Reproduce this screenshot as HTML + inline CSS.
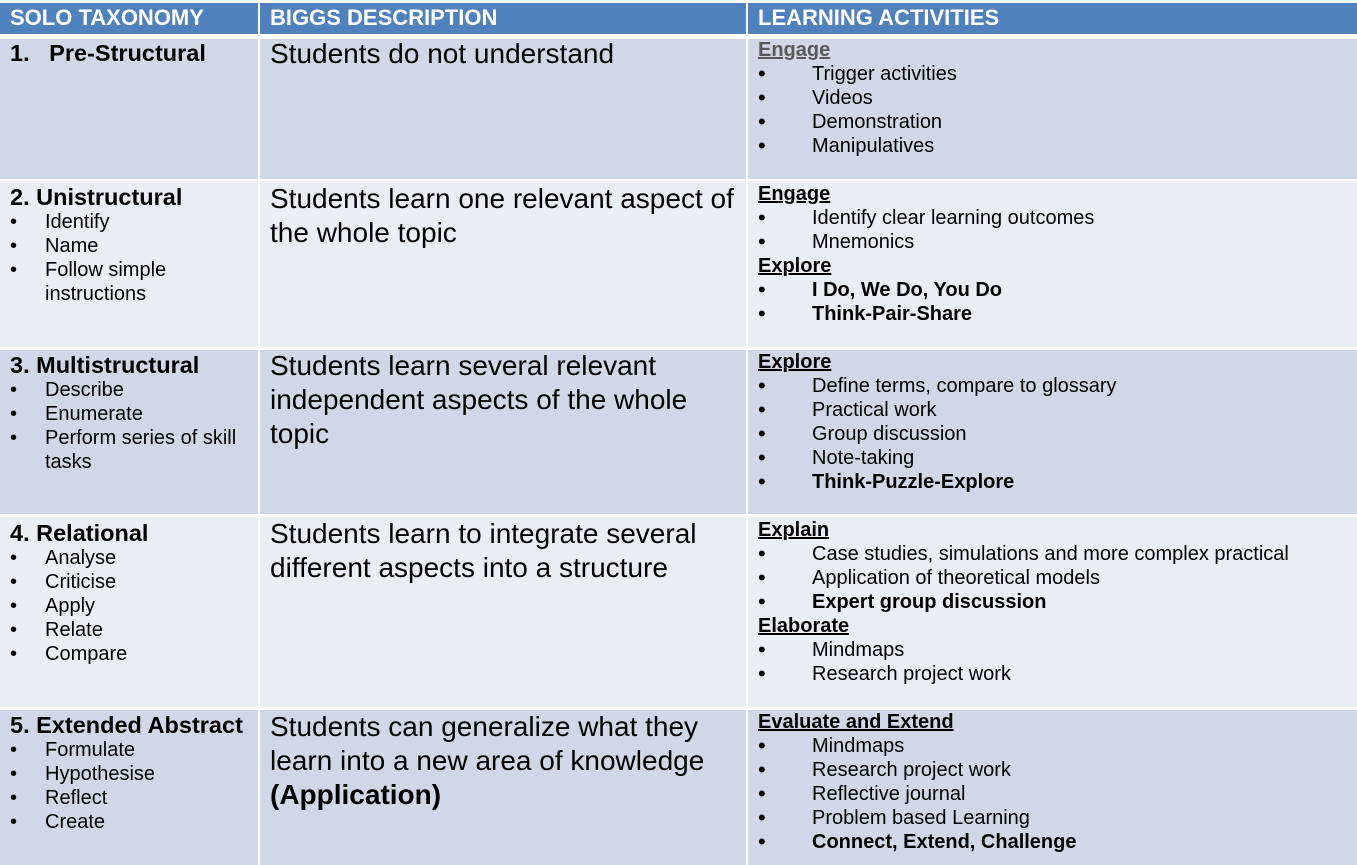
<!DOCTYPE html>
<html><head><meta charset="utf-8"><style>
*{margin:0;padding:0;box-sizing:border-box}
body{width:1357px;height:865px;background:#fff;position:relative;overflow:hidden;font-family:"Liberation Sans",Arial,sans-serif;color:#000}
.c{position:absolute}
.h{background:#4f81bd;color:#fff;font-weight:bold;font-size:22px;line-height:30px;padding-left:10px;top:3px;height:31px}
.o{background:#d0d8e8}.e{background:#e9edf4}
.t{position:absolute;white-space:nowrap;line-height:24px}
.ti{font-size:23.5px;font-weight:bold;left:10px}
.sb{font-size:20px}
.d{font-size:28px;left:270px;line-height:34px}
.a{font-size:20px}
.hd{font-weight:bold;text-decoration:underline;left:758px}
.b{left:758px;font-size:22px}
.at{left:812px}
.bb{font-weight:bold}
</style></head><body>
<div class="c h" style="left:0;width:258px">SOLO TAXONOMY</div>
<div class="c h" style="left:260px;width:486px">BIGGS DESCRIPTION</div>
<div class="c h" style="left:748px;width:609px">LEARNING ACTIVITIES</div>

<div class="c o" style="left:0;top:39px;width:258px;height:140px"></div>
<div class="c o" style="left:260px;top:39px;width:486px;height:140px"></div>
<div class="c o" style="left:748px;top:39px;width:609px;height:140px"></div>
<div class="c e" style="left:0;top:181px;width:258px;height:166px"></div>
<div class="c e" style="left:260px;top:181px;width:486px;height:166px"></div>
<div class="c e" style="left:748px;top:181px;width:609px;height:166px"></div>
<div class="c o" style="left:0;top:350px;width:258px;height:164px"></div>
<div class="c o" style="left:260px;top:350px;width:486px;height:164px"></div>
<div class="c o" style="left:748px;top:350px;width:609px;height:164px"></div>
<div class="c e" style="left:0;top:517px;width:258px;height:190px"></div>
<div class="c e" style="left:260px;top:517px;width:486px;height:190px"></div>
<div class="c e" style="left:748px;top:517px;width:609px;height:190px"></div>
<div class="c o" style="left:0;top:710px;width:258px;height:155px"></div>
<div class="c o" style="left:260px;top:710px;width:486px;height:155px"></div>
<div class="c o" style="left:748px;top:710px;width:609px;height:155px"></div>

<!-- col1 -->
<div class="t ti" style="top:41px">1.&nbsp;&nbsp; Pre-Structural</div>
<div class="t ti" style="top:185px">2. Unistructural</div>
<div class="t sb" style="left:10px;top:210px">•</div><div class="t sb" style="left:45px;top:210px">Identify</div>
<div class="t sb" style="left:10px;top:234px">•</div><div class="t sb" style="left:45px;top:234px">Name</div>
<div class="t sb" style="left:10px;top:258px">•</div><div class="t sb" style="left:45px;top:258px">Follow simple</div>
<div class="t sb" style="left:45px;top:282px">instructions</div>
<div class="t ti" style="top:353px">3. Multistructural</div>
<div class="t sb" style="left:10px;top:378px">•</div><div class="t sb" style="left:45px;top:378px">Describe</div>
<div class="t sb" style="left:10px;top:402px">•</div><div class="t sb" style="left:45px;top:402px">Enumerate</div>
<div class="t sb" style="left:10px;top:426px">•</div><div class="t sb" style="left:45px;top:426px">Perform series of skill</div>
<div class="t sb" style="left:45px;top:450px">tasks</div>
<div class="t ti" style="top:521px">4. Relational</div>
<div class="t sb" style="left:10px;top:546px">•</div><div class="t sb" style="left:45px;top:546px">Analyse</div>
<div class="t sb" style="left:10px;top:570px">•</div><div class="t sb" style="left:45px;top:570px">Criticise</div>
<div class="t sb" style="left:10px;top:594px">•</div><div class="t sb" style="left:45px;top:594px">Apply</div>
<div class="t sb" style="left:10px;top:618px">•</div><div class="t sb" style="left:45px;top:618px">Relate</div>
<div class="t sb" style="left:10px;top:642px">•</div><div class="t sb" style="left:45px;top:642px">Compare</div>
<div class="t ti" style="top:713px">5. Extended Abstract</div>
<div class="t sb" style="left:10px;top:738px">•</div><div class="t sb" style="left:45px;top:738px">Formulate</div>
<div class="t sb" style="left:10px;top:762px">•</div><div class="t sb" style="left:45px;top:762px">Hypothesise</div>
<div class="t sb" style="left:10px;top:786px">•</div><div class="t sb" style="left:45px;top:786px">Reflect</div>
<div class="t sb" style="left:10px;top:810px">•</div><div class="t sb" style="left:45px;top:810px">Create</div>

<!-- col2 -->
<div class="t d" style="top:37px">Students do not understand</div>
<div class="t d" style="top:182px">Students learn one relevant aspect of</div>
<div class="t d" style="top:216px">the whole topic</div>
<div class="t d" style="top:349px">Students learn several relevant</div>
<div class="t d" style="top:383px">independent aspects of the whole</div>
<div class="t d" style="top:417px">topic</div>
<div class="t d" style="top:517px">Students learn to integrate several</div>
<div class="t d" style="top:551px">different aspects into a structure</div>
<div class="t d" style="top:710px">Students can generalize what they</div>
<div class="t d" style="top:744px">learn into a new area of knowledge</div>
<div class="t d bb" style="top:778px">(Application)</div>

<!-- col3 -->
<div class="t a hd" style="top:38px;color:#595959">Engage</div>
<div class="t b" style="top:62px">•</div><div class="t a at" style="top:62px">Trigger activities</div>
<div class="t b" style="top:86px">•</div><div class="t a at" style="top:86px">Videos</div>
<div class="t b" style="top:110px">•</div><div class="t a at" style="top:110px">Demonstration</div>
<div class="t b" style="top:134px">•</div><div class="t a at" style="top:134px">Manipulatives</div>

<div class="t a hd" style="top:182px">Engage</div>
<div class="t b" style="top:206px">•</div><div class="t a at" style="top:206px">Identify clear learning outcomes</div>
<div class="t b" style="top:230px">•</div><div class="t a at" style="top:230px">Mnemonics</div>
<div class="t a hd" style="top:254px">Explore</div>
<div class="t b" style="top:278px">•</div><div class="t a at bb" style="top:278px">I Do, We Do, You Do</div>
<div class="t b" style="top:302px">•</div><div class="t a at bb" style="top:302px">Think-Pair-Share</div>

<div class="t a hd" style="top:350px">Explore</div>
<div class="t b" style="top:374px">•</div><div class="t a at" style="top:374px">Define terms, compare to glossary</div>
<div class="t b" style="top:398px">•</div><div class="t a at" style="top:398px">Practical work</div>
<div class="t b" style="top:422px">•</div><div class="t a at" style="top:422px">Group discussion</div>
<div class="t b" style="top:446px">•</div><div class="t a at" style="top:446px">Note-taking</div>
<div class="t b" style="top:470px">•</div><div class="t a at bb" style="top:470px">Think-Puzzle-Explore</div>

<div class="t a hd" style="top:518px">Explain</div>
<div class="t b" style="top:542px">•</div><div class="t a at" style="top:542px">Case studies, simulations and more complex practical</div>
<div class="t b" style="top:566px">•</div><div class="t a at" style="top:566px">Application of theoretical models</div>
<div class="t b" style="top:590px">•</div><div class="t a at bb" style="top:590px">Expert group discussion</div>
<div class="t a hd" style="top:614px">Elaborate</div>
<div class="t b" style="top:638px">•</div><div class="t a at" style="top:638px">Mindmaps</div>
<div class="t b" style="top:662px">•</div><div class="t a at" style="top:662px">Research project work</div>

<div class="t a hd" style="top:710px">Evaluate and Extend</div>
<div class="t b" style="top:734px">•</div><div class="t a at" style="top:734px">Mindmaps</div>
<div class="t b" style="top:758px">•</div><div class="t a at" style="top:758px">Research project work</div>
<div class="t b" style="top:782px">•</div><div class="t a at" style="top:782px">Reflective journal</div>
<div class="t b" style="top:806px">•</div><div class="t a at" style="top:806px">Problem based Learning</div>
<div class="t b" style="top:830px">•</div><div class="t a at bb" style="top:830px">Connect, Extend, Challenge</div>
</body></html>
